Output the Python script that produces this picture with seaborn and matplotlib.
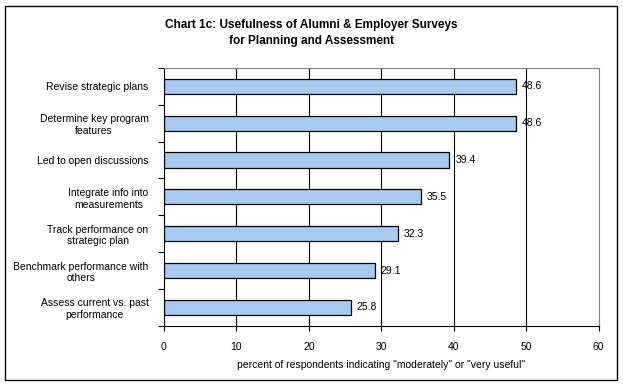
import matplotlib
matplotlib.use('Agg')
import matplotlib.pyplot as plt
import seaborn as sns
import pandas as pd
from matplotlib.patches import Rectangle

categories = ['Revise strategic plans',
              'Determine key program\nfeatures',
              'Led to open discussions',
              'Integrate info into\nmeasurements',
              'Track performance on\nstrategic plan',
              'Benchmark performance with\nothers',
              'Assess current vs. past\nperformance']
values = [48.6, 48.6, 39.4, 35.5, 32.3, 29.1, 25.8]
xticks = [0, 10, 20, 30, 40, 50, 60]

df = pd.DataFrame({'item': categories, 'pct': values})

sns.set_style('white')
plt.rcParams['font.family'] = ['Liberation Sans', 'DejaVu Sans']
plt.rcParams['text.color'] = 'black'
plt.rcParams['axes.labelcolor'] = 'black'
plt.rcParams['xtick.color'] = 'black'
plt.rcParams['ytick.color'] = 'black'

fig = plt.figure(figsize=(6.23, 3.88), dpi=100)
ax = fig.add_axes([0.263, 0.16, 0.698, 0.665])

sns.barplot(data=df, x='pct', y='item', orient='h', color='#A6CAF0',
            edgecolor='black', linewidth=0.9, width=0.41, saturation=1, ax=ax)

for i, v in enumerate(values):
    ax.text(v + 0.8, i, f'{v:.1f}', va='center', ha='left', fontsize=7.5)

ax.set_xlim(0, 60)
ax.set_ylim(6.5, -0.5)
ax.set_xticks(xticks)
ax.set_xticklabels([str(t) for t in xticks], fontsize=7.5)
ax.tick_params(axis='x', bottom=True, top=False, direction='inout', length=7, width=0.8, pad=8)
for t in xticks[1:-1]:
    ax.axvline(t, color='black', linewidth=0.8, zorder=0)

# category separators as ticks on the left axis
ax.set_yticks([i + 0.5 for i in range(-1, 7)], minor=True)
ax.tick_params(axis='y', which='minor', left=True, right=False, direction='out', length=4, width=0.8)
ax.tick_params(axis='y', which='major', left=False, right=False, length=0, pad=11)
for lab in ax.get_yticklabels():
    lab.set_fontsize(7.5)
    lab.set_multialignment('center')

ax.set_xlabel('percent of respondents indicating "moderately" or "very useful"', fontsize=7.5, labelpad=6)
ax.set_ylabel('')

for side in ['left', 'bottom']:
    ax.spines[side].set_color('black')
    ax.spines[side].set_linewidth(0.8)
for side in ['right', 'top']:
    ax.spines[side].set_color('#808080')
    ax.spines[side].set_linewidth(0.8)

fig.text(0.5, 0.915, 'Chart 1c: Usefulness of Alumni & Employer Surveys\nfor Planning and Assessment',
         ha='center', va='center', fontsize=8.5, fontweight='bold', linespacing=1.4)

fig.patches.append(Rectangle((0.008, 0.02), 0.982, 0.965, transform=fig.transFigure,
                             fill=False, edgecolor='black', linewidth=1))

fig.savefig('out.png', dpi=100)
